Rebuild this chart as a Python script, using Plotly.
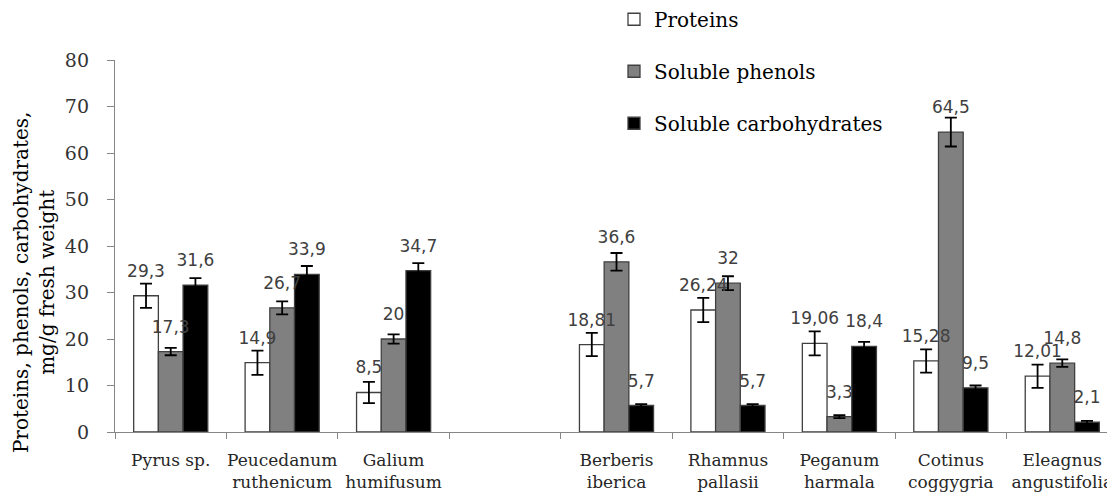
import plotly.graph_objects as go

categories = ["Pyrus sp.", "Peucedanum<br>ruthenicum", "Galium<br>humifusum", " ",
              "Berberis<br>iberica", "Rhamnus<br>pallasii", "Peganum<br>harmala",
              "Cotinus<br>coggygria", "Eleagnus<br>angustifolia"]

proteins = [29.3, 14.9, 8.5, None, 18.81, 26.24, 19.06, 15.28, 12.01]
phenols = [17.3, 26.7, 20.0, None, 36.6, 32.0, 3.3, 64.5, 14.8]
carbs = [31.6, 33.9, 34.7, None, 5.7, 5.7, 18.4, 9.5, 2.1]

proteins_err = [2.6, 2.6, 2.3, None, 2.5, 2.6, 2.6, 2.5, 2.5]
phenols_err = [0.8, 1.4, 1.0, None, 1.9, 1.5, 0.3, 3.1, 0.8]
carbs_err = [1.5, 1.8, 1.6, None, 0.3, 0.3, 1.0, 0.5, 0.3]

proteins_lbl = ["29,3", "14,9", "8,5", "", "18,81", "26,24", "19,06", "15,28", "12,01"]
phenols_lbl = ["17,3", "26,7", "20", "", "36,6", "32", "3,3", "64,5", "14,8"]
carbs_lbl = ["31,6", "33,9", "34,7", "", "5,7", "5,7", "18,4", "9,5", "2,1"]

y_title = "Proteins, phenols, carbohydrates,<br>mg/g fresh weight"

series = [
    ("Proteins", proteins, proteins_err, proteins_lbl, "#ffffff", "g1"),
    ("Soluble phenols", phenols, phenols_err, phenols_lbl, "#808080", "g2"),
    ("Soluble carbohydrates", carbs, carbs_err, carbs_lbl, "#000000", "g3"),
]

SERIF = "DejaVu Serif"
SANS = "DejaVu Sans"

fig = go.Figure()
for name, vals, errs, lbls, color, grp in series:
    fig.add_trace(go.Bar(
        x=categories, y=vals, name=name, legendgroup=grp,
        offsetgroup=grp, alignmentgroup="a",
        marker=dict(color=color, line=dict(color="#404040", width=1.3)),
        error_y=dict(type="data", array=errs, visible=True,
                     color="#000000", thickness=1.8, width=6),
        hoverinfo="skip",
    ))
for name, vals, errs, lbls, color, grp in series:
    fig.add_trace(go.Scatter(
        x=categories, y=vals, mode="markers+text", text=lbls,
        textposition="top center", offsetgroup=grp, alignmentgroup="a",
        marker=dict(size=22, opacity=0),
        textfont=dict(family=SANS, size=17, color="#404040"),
        showlegend=False, hoverinfo="skip", cliponaxis=False,
    ))

fig.add_annotation(
    text=y_title, textangle=-90, xref="paper", yref="paper",
    x=0, xanchor="center", xshift=-81, y=0.403, yanchor="middle",
    showarrow=False, font=dict(family=SERIF, size=20, color="#000000"),
)

# the page body adds an 8px offset, so the figure is 8px smaller than the window
fig.update_layout(
    width=1107, height=493,
    margin=dict(l=107, r=0, t=52, b=69, autoexpand=False),
    paper_bgcolor="white", plot_bgcolor="white",
    barmode="group", bargap=0.335, bargroupgap=0,
    scattermode="group", scattergap=0.335,
    showlegend=True,
    legend=dict(
        x=0.499, xanchor="left", y=1.162, yanchor="top",
        font=dict(family=SERIF, size=20, color="#000000"),
        tracegroupgap=23, bgcolor="rgba(0,0,0,0)",
        traceorder="grouped",
    ),
    xaxis=dict(
        type="category", categoryorder="array", categoryarray=categories,
        range=[-0.5, 8.473],
        showline=True, linecolor="#868686", linewidth=1.3,
        ticks="outside", tickson="boundaries", ticklen=6,
        tickcolor="#868686", tickwidth=1.3, tickangle=0,
        tickfont=dict(family=SERIF, size=17, color="#262626"),
        ticklabelstandoff=12,
        showgrid=False, zeroline=False, automargin=False,
    ),
    yaxis=dict(
        range=[0, 80], dtick=10, tick0=0,
        showline=True, linecolor="#868686", linewidth=1.3,
        ticks="outside", ticklen=7, tickcolor="#868686", tickwidth=1.3,
        tickfont=dict(family=SERIF, size=19, color="#333333"),
        ticklabelstandoff=14,
        showgrid=False, zeroline=False,
        automargin=False,
    ),
)

fig.write_html("out.html")
